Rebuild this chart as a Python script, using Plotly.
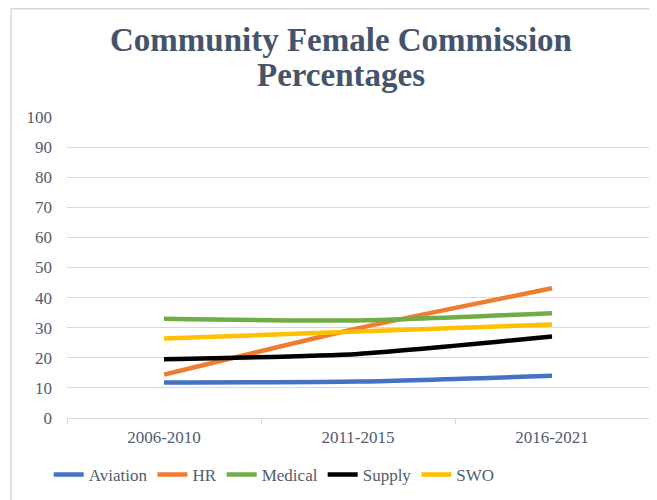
import plotly.graph_objects as go

periods = ['2006-2010', '2011-2015', '2016-2021']
aviation = [11.8, 12.1, 14.0]
hr = [14.4, 29.8, 43.1]
medical = [33.0, 32.4, 34.8]
supply = [19.5, 21.3, 27.1]
swo = [26.4, 28.7, 31.1]

series = [
    ('Aviation', aviation, '#4472C4'),
    ('HR', hr, '#ED7D31'),
    ('Medical', medical, '#70AD47'),
    ('Supply', supply, '#000000'),
    ('SWO', swo, '#FFC000'),
]

serif = 'Liberation Serif, Times New Roman, serif'
text_col = '#525c6b'
title_col = '#44546A'

fig = go.Figure()
for name, vals, col in series:
    fig.add_trace(go.Scatter(x=periods, y=vals, name=name, mode='lines',
                             line=dict(color=col, width=4.5, shape='spline', smoothing=0.6)))

# page is drawn with an 8px body margin, so the figure is shifted by 8px
fig.update_layout(
    width=649, height=492,
    margin=dict(l=59, r=8, t=109, b=82, autoexpand=False),
    paper_bgcolor='white', plot_bgcolor='white',
    legend=dict(orientation='h', x=0.356, xanchor='center', y=-0.189, yanchor='middle',
                font=dict(family=serif, size=17, color=text_col),
                itemwidth=30, tracegroupgap=0),
    font=dict(family=serif, color=text_col),
    shapes=[dict(type='rect', xref='paper', yref='paper',
                 x0=-0.0962, x1=1.05, y0=-0.4, y1=1.3595,
                 line=dict(color='#D9D9D9', width=1.5))],
)
for txt, yy in [('Community Female Commission', 1.255), ('Percentages', 1.139)]:
    fig.add_annotation(text=f'<b>{txt}</b>', xref='paper', yref='paper', x=0.471, y=yy,
                       xanchor='center', yanchor='middle', showarrow=False,
                       font=dict(family=serif, size=33, color=title_col))

fig.update_xaxes(type='category', range=[-0.5, 2.5], showgrid=False,
                 showline=True, linecolor='#D9D9D9', linewidth=1,
                 ticks='outside', tickson='boundaries', ticklen=5, tickcolor='#D9D9D9',
                 ticklabelstandoff=4,
                 tickfont=dict(family=serif, size=17, color=text_col))
fig.update_yaxes(range=[0, 100], dtick=10, showgrid=True, gridcolor='#D9D9D9', gridwidth=1,
                 zeroline=False, showline=False, ticks='', ticklabelstandoff=14,
                 tickfont=dict(family=serif, size=17, color=text_col))

fig.write_html("out.html")
